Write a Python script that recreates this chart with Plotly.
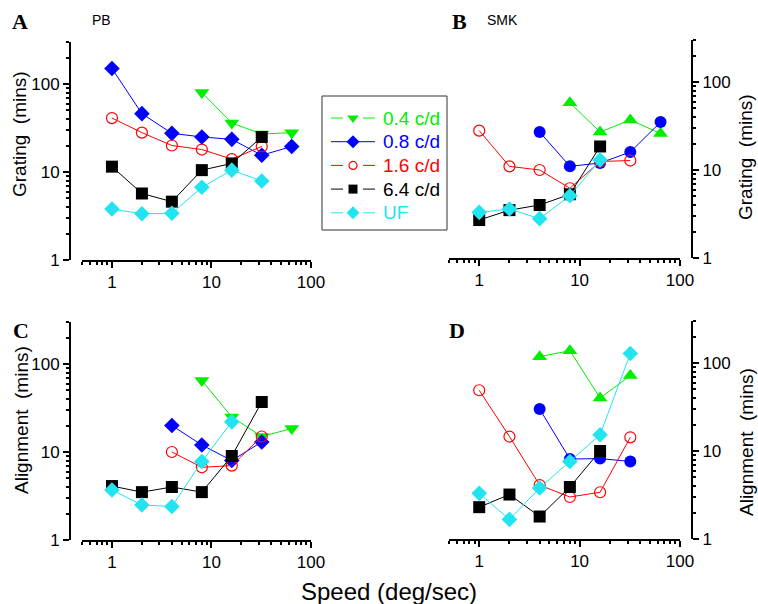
import math
import plotly.graph_objects as go

# ---- data: threshold (mins) vs. speed (deg/sec) ----
series_names = ["0.4 c/d", "0.8 c/d", "1.6 c/d", "6.4 c/d", "UF"]
series_colors = ["#00ee00", "#0000ff", "#ff0000", "#000000", "#22e4f0"]

# PB, grating
pb_grat_x = {
    "0.4 c/d": [8, 16, 32, 64],
    "0.8 c/d": [1, 2, 4, 8, 16, 32, 64],
    "1.6 c/d": [1, 2, 4, 8, 16, 32],
    "6.4 c/d": [1, 2, 4, 8, 16, 32],
    "UF": [1, 2, 4, 8, 16, 32],
}
pb_grat_y = {
    "0.4 c/d": [80, 36, 27, 28],
    "0.8 c/d": [150, 46, 27.5, 25, 23.5, 15.5, 19.5],
    "1.6 c/d": [41, 28, 20, 18, 14, 19.5],
    "6.4 c/d": [11.5, 5.7, 4.6, 10.5, 12.5, 25],
    "UF": [3.8, 3.35, 3.4, 6.7, 10.5, 7.9],
}

# SMK, grating
smk_grat_x = {
    "0.4 c/d": [8, 16, 32, 64],
    "0.8 c/d": [4, 8, 16, 32, 64],
    "1.6 c/d": [1, 2, 4, 8, 16, 32],
    "6.4 c/d": [1, 2, 4, 8, 16],
    "UF": [1, 2, 4, 8, 16],
}
smk_grat_y = {
    "0.4 c/d": [58, 27, 37, 26],
    "0.8 c/d": [27, 11, 12, 16, 35],
    "1.6 c/d": [28, 11, 10, 6.2, 12.5, 12.8],
    "6.4 c/d": [2.7, 3.5, 4.0, 5.3, 18.5],
    "UF": [3.3, 3.6, 2.8, 5.1, 13],
}

# PB, alignment
pb_align_x = {
    "0.4 c/d": [8, 16, 32, 64],
    "0.8 c/d": [4, 8, 16, 32],
    "1.6 c/d": [4, 8, 16, 32],
    "6.4 c/d": [1, 2, 4, 8, 16, 32],
    "UF": [1, 2, 4, 8, 16],
}
pb_align_y = {
    "0.4 c/d": [65, 25, 15, 18.5],
    "0.8 c/d": [20, 12, 8, 13],
    "1.6 c/d": [10, 6.7, 7, 15],
    "6.4 c/d": [4.1, 3.5, 4.0, 3.5, 9, 37],
    "UF": [3.7, 2.5, 2.4, 7.8, 22],
}

# SMK, alignment
smk_align_x = {
    "0.4 c/d": [4, 8, 16, 32],
    "0.8 c/d": [4, 8, 16, 32],
    "1.6 c/d": [1, 2, 4, 8, 16, 32],
    "6.4 c/d": [1, 2, 4, 8, 16],
    "UF": [1, 2, 4, 8, 16, 32],
}
smk_align_y = {
    "0.4 c/d": [118, 138, 40, 72],
    "0.8 c/d": [30, 8.1, 8.2, 7.6],
    "1.6 c/d": [49, 14.6, 4.1, 3.0, 3.4, 14.3],
    "6.4 c/d": [2.3, 3.2, 1.8, 3.9, 10],
    "UF": [3.3, 1.67, 3.8, 7.6, 15.3, 128],
}

major_ticks = [1, 10, 100]
major_labels = ["1", "10", "100"]
x_minor = [0.5, 0.6, 0.7, 0.8, 0.9, 2, 3, 4, 5, 6, 7, 8, 9,
           20, 30, 40, 50, 60, 70, 80, 90]
y_minor = [2, 3, 4, 5, 6, 7, 8, 9, 20, 30, 40, 50, 60, 70, 80, 90, 200, 300]

W, H = 758, 604
SANS = "Liberation Sans, Arial, sans-serif"
SERIF = "Liberation Serif, Times New Roman, serif"

pb_symbols = ["triangle-down", "diamond", "circle-open", "square", "diamond"]
smk_symbols = ["triangle-up", "circle", "circle-open", "square", "diamond"]
sym_size = {"triangle-down": 13, "triangle-up": 13, "diamond": 12,
            "circle-open": 11, "circle": 12, "square": 12}
key_size = {"triangle-down": 10, "diamond": 10, "circle-open": 8, "square": 9}

fig = go.Figure()

panels = [
    ("x", "y", pb_grat_x, pb_grat_y, pb_symbols),
    ("x2", "y2", smk_grat_x, smk_grat_y, smk_symbols),
    ("x3", "y3", pb_align_x, pb_align_y, pb_symbols),
    ("x4", "y4", smk_align_x, smk_align_y, smk_symbols),
]

for xa, ya, xs, ys, syms in panels:
    for name, color, sym in zip(series_names, series_colors, syms):
        marker = dict(symbol=sym, size=sym_size[sym], color=color)
        if sym == "circle-open":
            marker["line"] = dict(color=color, width=1.2)
        fig.add_trace(go.Scatter(
            x=xs[name], y=ys[name], xaxis=xa, yaxis=ya,
            mode="lines+markers",
            line=dict(color=color, width=1),
            marker=marker, name=name, showlegend=False,
        ))


def px_x(p):
    return p / W


def px_y(p):
    return 1 - p / H


# ---- key: a small hidden axis pair holding one sample row per series ----
KEY_L, KEY_R, KEY_T, KEY_B = 322, 447, 96, 230
ROW0, ROW_STEP = 118, 23.7
key_line = (9, 53)       # sample line span, px from key's left edge
key_mark = 31            # sample marker position
key_gap = 10             # half-width of the break around the marker
key_text = 59            # label start

for i, (name, color, sym) in enumerate(zip(series_names, series_colors, pb_symbols)):
    if name == "0.8 c/d":
        lx = [key_line[0], key_line[1]]
        ly = [i, i]
    else:
        lx = [key_line[0], key_mark - key_gap, None, key_mark + key_gap, key_line[1]]
        ly = [i, i, None, i, i]
    fig.add_trace(go.Scatter(
        x=lx, y=ly, xaxis="x5", yaxis="y5", mode="lines",
        line=dict(color=color, width=1), showlegend=False, hoverinfo="skip",
    ))
    marker = dict(symbol=sym, size=key_size[sym], color=color)
    if sym == "circle-open":
        marker["line"] = dict(color=color, width=1.2)
    fig.add_trace(go.Scatter(
        x=[key_mark], y=[i], xaxis="x5", yaxis="y5", mode="markers",
        marker=marker, showlegend=False, hoverinfo="skip",
    ))
    fig.add_annotation(
        text=name, x=key_text, y=i, xref="x5", yref="y5",
        xanchor="left", yanchor="middle", showarrow=False,
        font=dict(family=SANS, size=19, color=color),
    )

fig.add_shape(
    type="rect", xref="paper", yref="paper",
    x0=px_x(KEY_L), x1=px_x(KEY_R), y0=px_y(KEY_B), y1=px_y(KEY_T),
    line=dict(color="#333333", width=1), fillcolor="white", layer="below",
)


def x_axis(domain, anchor):
    return dict(
        type="log", range=[math.log10(0.5), 2], domain=domain, anchor=anchor,
        showline=True, linecolor="black", linewidth=2, mirror=False,
        ticks="outside", ticklen=6, tickwidth=2, tickcolor="black",
        tickmode="array", tickvals=major_ticks, ticktext=major_labels,
        minor=dict(tickmode="array", tickvals=x_minor, ticks="outside",
                   ticklen=3, tickwidth=1.5, tickcolor="black", showgrid=False),
        showgrid=False, zeroline=False, automargin=False,
        tickfont=dict(family=SANS, size=17, color="black"),
    )


def y_axis(domain, position, side):
    return dict(
        type="log", range=[0, math.log10(300)], domain=domain,
        anchor="free", position=position, side=side,
        showline=True, linecolor="black", linewidth=2, mirror=False,
        ticks="outside", ticklen=6, tickwidth=2, tickcolor="black",
        tickmode="array", tickvals=major_ticks, ticktext=major_labels,
        minor=dict(tickmode="array", tickvals=y_minor, ticks="outside",
                   ticklen=3, tickwidth=1.5, tickcolor="black", showgrid=False),
        showgrid=False, zeroline=False, automargin=False,
        tickfont=dict(family=SANS, size=17, color="black"),
    )


left_x = [px_x(82), px_x(311)]
right_x = [px_x(449), px_x(680)]

fig.update_layout(
    width=W, height=H,
    margin=dict(l=0, r=0, t=0, b=0),
    paper_bgcolor="white", plot_bgcolor="rgba(0,0,0,0)",
    showlegend=False,
    xaxis=x_axis(left_x, "y"),
    yaxis=y_axis([px_y(260), px_y(42)], px_x(70), "left"),
    xaxis2=x_axis(right_x, "y2"),
    yaxis2=y_axis([px_y(258), px_y(40)], px_x(692), "right"),
    xaxis3=x_axis(left_x, "y3"),
    yaxis3=y_axis([px_y(540), px_y(322)], px_x(70), "left"),
    xaxis4=x_axis(right_x, "y4"),
    yaxis4=y_axis([px_y(539), px_y(321)], px_x(692), "right"),
    xaxis5=dict(domain=[px_x(KEY_L), px_x(KEY_R)], range=[0, KEY_R - KEY_L],
                visible=False, anchor="y5", fixedrange=True),
    yaxis5=dict(domain=[px_y(KEY_B), px_y(KEY_T)],
                range=[(KEY_B - ROW0) / ROW_STEP, (KEY_T - ROW0) / ROW_STEP],
                visible=False, anchor="x5", fixedrange=True),
)


def note(text, x, y, size, family=SANS, angle=0, bold=False):
    if bold:
        text = f"<b>{text}</b>"
    fig.add_annotation(
        text=text, x=px_x(x), y=px_y(y), xref="paper", yref="paper",
        showarrow=False, xanchor="center", yanchor="middle", textangle=angle,
        font=dict(family=family, size=size, color="black"),
    )


# panel letters and subject labels
note("A", 19.5, 22, 22, SERIF, bold=True)
note("PB", 101, 20, 14)
note("B", 459, 22, 22, SERIF, bold=True)
note("SMK", 502, 20, 14)
note("C", 20.5, 330, 22, SERIF, bold=True)
note("D", 457, 330, 22, SERIF, bold=True)

# axis titles
note("Grating  (mins)", 19, 134, 19, angle=-90)
note("Grating  (mins)", 746, 157, 19, angle=-90)
note("Alignment  (mins)", 21, 420, 19, angle=-90)
note("Alignment  (mins)", 746, 442, 19, angle=-90)
note("Speed (deg/sec)", 389, 591, 24)

fig.write_html("out.html")
